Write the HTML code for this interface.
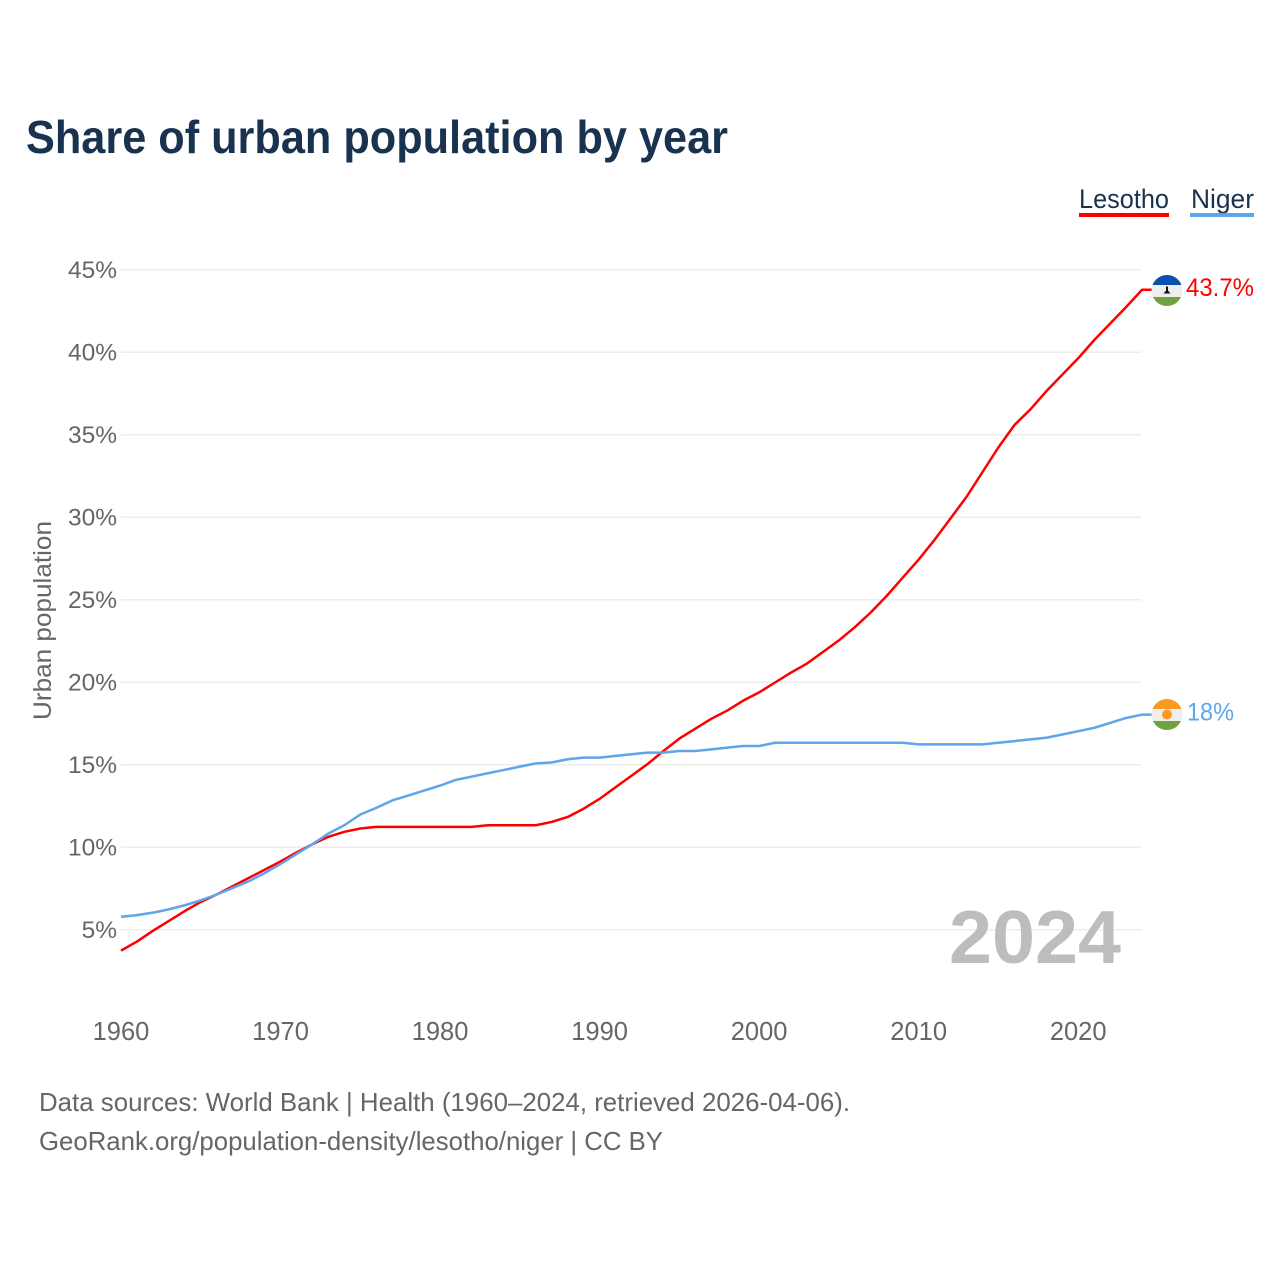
<!DOCTYPE html>
<html lang="en">
<head>
<meta charset="utf-8">
<title>Share of urban population by year</title>
<style>
html,body{margin:0;padding:0;background:#fff;width:1280px;height:1280px;overflow:hidden}
svg{display:block}
text{font-family:"Liberation Sans",sans-serif}
</style>
</head>
<body>
<svg id="chart" xmlns="http://www.w3.org/2000/svg" width="1280" height="1280" viewBox="0 0 1280 1280">
  <rect width="1280" height="1280" fill="#fff"/>
  <text x="26" y="153" font-size="46" font-weight="700" fill="#18324f" textLength="702" lengthAdjust="spacingAndGlyphs">Share of urban population by year</text>
  <g>
    <g>
      <text x="1079" y="208" font-size="27" fill="#18324f" textLength="90" lengthAdjust="spacingAndGlyphs">Lesotho</text>
      <rect x="1079" y="213" width="90" height="4" fill="#ff0000"/>
    </g>
    <g>
      <text x="1191" y="208" font-size="27" fill="#18324f" textLength="63" lengthAdjust="spacingAndGlyphs">Niger</text>
      <rect x="1190" y="213" width="64" height="4" fill="#5fa5ec"/>
    </g>
  </g>
  <text transform="translate(51,720) rotate(-90)" font-size="25" fill="#666" textLength="199" lengthAdjust="spacingAndGlyphs">Urban population</text>
  <g id="grid"></g>
  <g id="yticks"></g>
  <g id="xticks"></g>
  <text x="949" y="963" font-size="75" font-weight="700" fill="#bdbdbd" textLength="172" lengthAdjust="spacingAndGlyphs">2024</text>
  <g id="series"></g>
  <defs>
    <clipPath id="clip-lesotho"><circle cx="1167" cy="290.5" r="15.5"/></clipPath>
    <clipPath id="clip-niger"><circle cx="1167" cy="714.5" r="15.5"/></clipPath>
  </defs>
  <g clip-path="url(#clip-lesotho)">
    <rect x="1151" y="275" width="32" height="10" fill="#0a52ae"/>
    <rect x="1151" y="285" width="32" height="12" fill="#eeeeee"/>
    <rect x="1151" y="297" width="32" height="10" fill="#6fa33f"/>
    <rect x="1166" y="286.5" width="2" height="5" fill="#111"/>
    <path d="M1163.500 293.500 L1170.500 293.500 L1167 289.500 Z" fill="#111"/>
  </g>
  <g clip-path="url(#clip-niger)">
    <rect x="1151" y="699" width="32" height="10" fill="#fb9a22"/>
    <rect x="1151" y="709" width="32" height="12" fill="#eeeeee"/>
    <rect x="1151" y="721" width="32" height="10" fill="#6fa33f"/>
    <circle cx="1167" cy="714.500" r="5" fill="#fb9a22"/>
  </g>
  <g id="end-labels"></g>
  <text x="39" y="1111" font-size="26" fill="#666" textLength="811" lengthAdjust="spacingAndGlyphs">Data sources: World Bank | Health (1960–2024, retrieved 2026-04-06).</text>
  <text x="39" y="1150" font-size="26" fill="#666" textLength="624" lengthAdjust="spacingAndGlyphs">GeoRank.org/population-density/lesotho/niger | CC BY</text>
</svg>
<script>
const years = [1960,1961,1962,1963,1964,1965,1966,1967,1968,1969,1970,1971,1972,1973,1974,1975,1976,1977,1978,1979,1980,1981,1982,1983,1984,1985,1986,1987,1988,1989,1990,1991,1992,1993,1994,1995,1996,1997,1998,1999,2000,2001,2002,2003,2004,2005,2006,2007,2008,2009,2010,2011,2012,2013,2014,2015,2016,2017,2018,2019,2020,2021,2022,2023,2024];
const lesothoValues = [3.75,4.3,4.95,5.55,6.15,6.7,7.15,7.65,8.15,8.65,9.15,9.7,10.2,10.65,10.95,11.15,11.25,11.25,11.25,11.25,11.25,11.25,11.25,11.35,11.35,11.35,11.35,11.55,11.85,12.35,12.95,13.65,14.35,15.05,15.85,16.6,17.2,17.8,18.3,18.9,19.4,20.0,20.6,21.15,21.85,22.55,23.35,24.25,25.25,26.35,27.45,28.65,29.95,31.25,32.75,34.25,35.6,36.55,37.65,38.65,39.65,40.75,41.75,42.75,43.8];
const nigerValues = [5.8,5.9,6.05,6.25,6.5,6.8,7.15,7.55,7.95,8.45,9.0,9.6,10.2,10.85,11.35,12.0,12.4,12.85,13.15,13.45,13.75,14.1,14.3,14.5,14.7,14.9,15.1,15.15,15.35,15.45,15.45,15.55,15.65,15.75,15.75,15.85,15.85,15.95,16.05,16.15,16.15,16.35,16.35,16.35,16.35,16.35,16.35,16.35,16.35,16.35,16.25,16.25,16.25,16.25,16.25,16.35,16.45,16.55,16.65,16.85,17.05,17.25,17.55,17.85,18.05];
const yTickValues = [5,10,15,20,25,30,35,40,45];
const xTickValues = [1960,1970,1980,1990,2000,2010,2020];
const lesothoEndLabel = "43.7%";
const nigerEndLabel = "18%";

const SVG_NS = "http://www.w3.org/2000/svg";
function xScale(year) { return 121 + (year - 1960) * (1142 - 121) / 64; }
function yScale(value) { return 930 - (value - 5) * (930 - 270) / 40; }
function make(tag, attrs, text) {
  const el = document.createElementNS(SVG_NS, tag);
  for (const k in attrs) el.setAttribute(k, attrs[k]);
  if (text !== undefined) el.textContent = text;
  return el;
}

const grid = document.getElementById("grid");
const yticks = document.getElementById("yticks");
yTickValues.forEach(function (v) {
  const line = make("line", {x1: 121, x2: 1141.5, y1: yScale(v) - 0.3, y2: yScale(v) - 0.3, stroke: "#ececec", "stroke-width": 1.5});
  
  
  grid.appendChild(line);
  const label = make("text", {x: 117, y: yScale(v) + 8, "text-anchor": "end", "font-size": 24.5, fill: "#666"}, v + "%");
  
  
  yticks.appendChild(label);
});

const xticks = document.getElementById("xticks");
xTickValues.forEach(function (y) {
  const label = make("text", {x: xScale(y), y: 1040, "text-anchor": "middle", "font-size": 25.5, fill: "#666"}, String(y));
  
  
  xticks.appendChild(label);
});

function linePoints(values) {
  const pts = values.map(function (v, i) { return xScale(years[i]).toFixed(2) + "," + yScale(v).toFixed(2); });
  pts.push((xScale(years[years.length - 1]) + 10).toFixed(2) + "," + yScale(values[values.length - 1]).toFixed(2));
  return pts.join(" ");
}
const series = document.getElementById("series");
const lesothoLine = make("polyline", {points: linePoints(lesothoValues), fill: "none", stroke: "#ff0000", "stroke-width": 2.5, "stroke-linejoin": "round"});


series.appendChild(lesothoLine);
const nigerLine = make("polyline", {points: linePoints(nigerValues), fill: "none", stroke: "#5fa5ec", "stroke-width": 2.5, "stroke-linejoin": "round"});


series.appendChild(nigerLine);

const endLabels = document.getElementById("end-labels");
const lesothoLabel = make("text", {x: 1186, y: yScale(lesothoValues[lesothoValues.length - 1]) + 6, "font-size": 25, fill: "#ff0000", textLength: 68, lengthAdjust: "spacingAndGlyphs"}, lesothoEndLabel);


endLabels.appendChild(lesothoLabel);
const nigerLabel = make("text", {x: 1187, y: yScale(nigerValues[nigerValues.length - 1]) + 6, "font-size": 25, fill: "#5fa5ec", textLength: 47, lengthAdjust: "spacingAndGlyphs"}, nigerEndLabel);


endLabels.appendChild(nigerLabel);
</script>
</body>
</html>
